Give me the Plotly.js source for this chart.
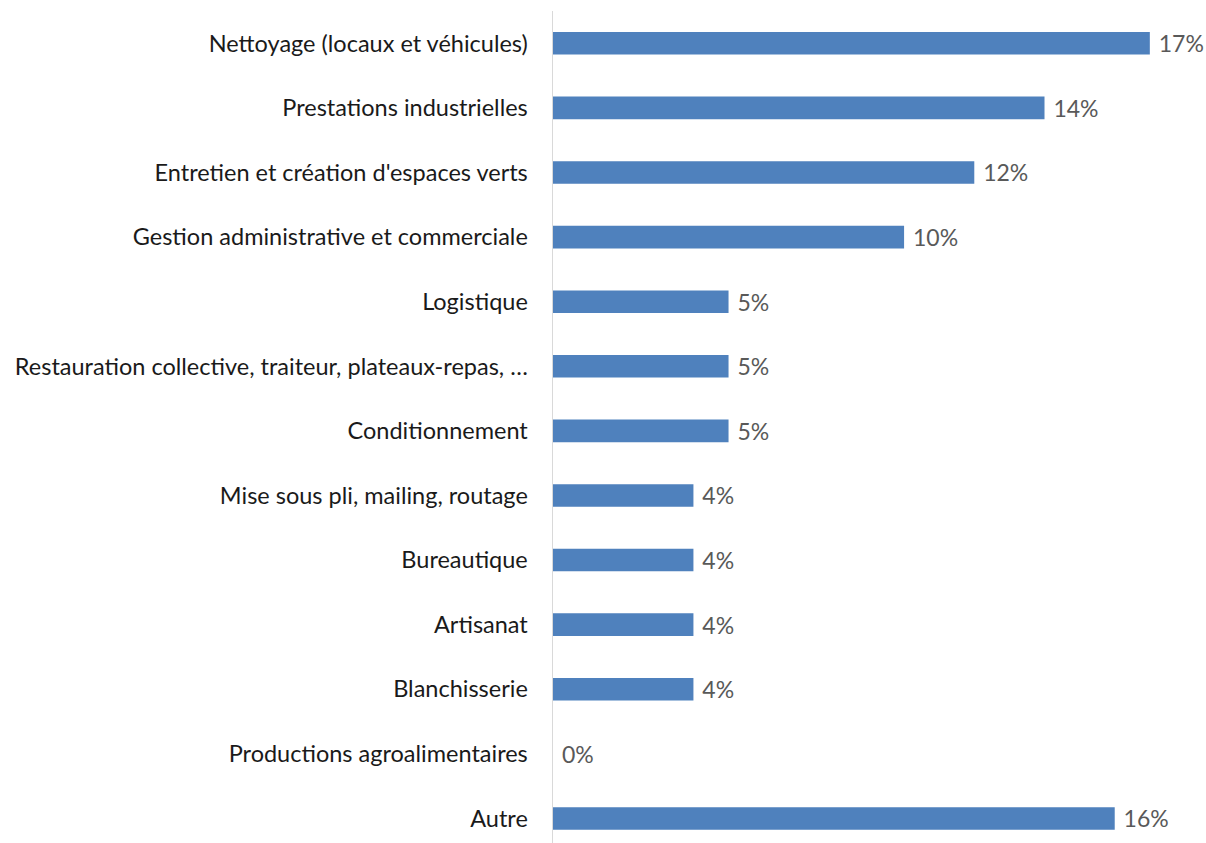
<!DOCTYPE html>
<html>
<head>
<meta charset="utf-8">
<script src="https://cdn.plot.ly/plotly-3.0.1.min.js"></script>
<style>html,body{margin:0;padding:0;background:#fff;}#chart{width:1206px;height:843px;}</style>
</head>
<body>
<div id="chart"></div>
<script>
const categories = [
  "Nettoyage (locaux et véhicules)",
  "Prestations industrielles",
  "Entretien et création d'espaces verts",
  "Gestion administrative et commerciale",
  "Logistique",
  "Restauration collective, traiteur, plateaux-repas, …",
  "Conditionnement",
  "Mise sous pli, mailing, routage",
  "Bureautique",
  "Artisanat",
  "Blanchisserie",
  "Productions agroalimentaires",
  "Autre"
];
const shares = [17, 14, 12, 10, 5, 5, 5, 4, 4, 4, 4, 0, 16];

const FONT = "Lato, 'Open Sans', sans-serif";

Plotly.newPlot("chart", [{
  type: "bar",
  orientation: "h",
  x: shares,
  y: categories,
  marker: {color: "#4F81BD"},
  texttemplate: "\u00a0%{x}%",
  textposition: "outside",
  constraintext: "none",
  cliponaxis: false,
  textfont: {family: FONT, size: 23, color: "#595959"},
  hoverinfo: "skip"
}], {
  width: 1206,
  height: 843,
  margin: {l: 553, r: 0, t: 11, b: 0, pad: 0},
  paper_bgcolor: "#ffffff",
  plot_bgcolor: "#ffffff",
  showlegend: false,
  bargap: 0.65,
  xaxis: {visible: false, range: [0, 18.6], fixedrange: true},
  yaxis: {
    type: "category",
    range: [12.38, -0.5],
    showline: true,
    linecolor: "#d9d9d9",
    linewidth: 1.5,
    showgrid: false,
    zeroline: false,
    ticks: "",
    ticklabelstandoff: 19,
    tickfont: {family: FONT, size: 23.5, color: "#1a1a1a"},
    fixedrange: true
  }
}, {displayModeBar: false, staticPlot: true});
</script>
</body>
</html>
